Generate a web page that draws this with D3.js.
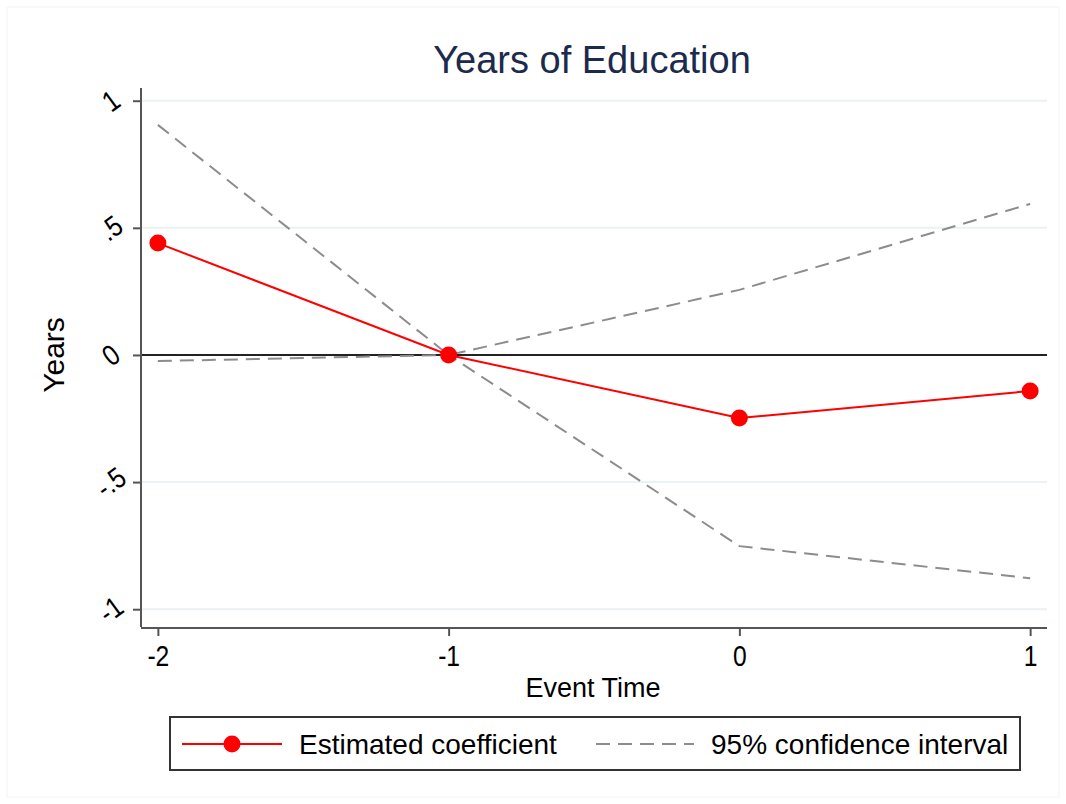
<!DOCTYPE html>
<html><head><meta charset="utf-8">
<script src="https://cdn.jsdelivr.net/npm/d3@7/dist/d3.min.js"></script>
<style>body{margin:0;background:#fff;} svg{display:block;}</style>
</head><body>
<svg id="chart" width="1066" height="804"></svg>
<script>
const eventTimes = [-2, -1, 0, 1];
const coefficient = [0.44, 0, -0.248, -0.142];
const ciUpper = [0.905, 0, 0.256, 0.594];
const ciLower = [-0.024, 0, -0.752, -0.878];
const yTicks = [1, 0.5, 0, -0.5, -1];
const yTickLabels = ["1", ".5", "0", "-.5", "-1"];
const xTicks = [-2, -1, 0, 1];
const xTickLabels = ["-2", "-1", "0", "1"];
const title = "Years of Education";
const xTitle = "Event Time";
const yTitle = "Years";
const legendLabels = ["Estimated coefficient", "95% confidence interval"];

const font = "'Liberation Sans', Arial, sans-serif";
const svg = d3.select("#chart");
const L = 141, R = 1047, T = 88, B = 627;

const x = d3.scaleLinear().domain([-2.058, 1.058]).range([L, R]);
const y = d3.scaleLinear().domain([-1.07, 1.05]).range([B, T]);

// faint outer frame
svg.append("rect").attr("x", 7).attr("y", 7).attr("width", 1052).attr("height", 790)
  .attr("fill", "none").attr("stroke", "#f4f4f4").attr("stroke-width", 1);

// gridlines
svg.append("g").selectAll("line").data(yTicks.filter(d => d !== 0)).join("line")
  .attr("x1", L).attr("x2", R).attr("y1", d => y(d)).attr("y2", d => y(d))
  .attr("stroke", "#eaf2f3").attr("stroke-width", 2);

// zero line
svg.append("line").attr("x1", L).attr("x2", R).attr("y1", y(0)).attr("y2", y(0))
  .attr("stroke", "#222").attr("stroke-width", 2);

// axes
const yAxis = svg.append("g").attr("transform", `translate(${L},0)`)
  .call(d3.axisLeft(y).tickValues(yTicks).tickSize(8).tickFormat((d, i) => yTickLabels[i]));
yAxis.select(".domain").attr("d", `M0,${T}V${B}`);
const xAxis = svg.append("g").attr("transform", `translate(0,${B + 1})`)
  .call(d3.axisBottom(x).tickValues(xTicks).tickSize(8).tickFormat((d, i) => xTickLabels[i]));
xAxis.select(".domain").attr("d", `M${L},0H${R}`);
[yAxis, xAxis].forEach(a => {
  a.attr("font-size", 29).attr("font-family", font);
  a.selectAll(".domain").attr("stroke", "#555").attr("stroke-width", 2);
  a.selectAll(".tick line").attr("stroke", "#555").attr("stroke-width", 2);
  a.selectAll("text").attr("fill", "#000").style("font-family", font).style("font-size", "29px");
});
yAxis.selectAll(".tick text").attr("x", 0).attr("dy", 0).attr("text-anchor", "middle")
  .attr("transform", "translate(-30,0) rotate(-36) scale(0.85,1)").attr("dominant-baseline", "central");
xAxis.selectAll(".tick text").attr("y", 17).attr("dy", "0.71em").attr("transform", "scale(0.85,1)");

// lines
const line = d3.line().x((d, i) => x(eventTimes[i])).y(d => y(d));
[ciUpper, ciLower].forEach(s => {
  svg.append("path").attr("d", line(s)).attr("fill", "none")
    .attr("stroke", "#8c8c8c").attr("stroke-width", 2).attr("stroke-dasharray", "14,8");
});
svg.append("path").attr("d", line(coefficient)).attr("fill", "none")
  .attr("stroke", "#ff0000").attr("stroke-width", 2);
svg.append("g").selectAll("circle").data(coefficient).join("circle")
  .attr("cx", (d, i) => x(eventTimes[i])).attr("cy", d => y(d)).attr("r", 8.5).attr("fill", "#ff0000");

// titles
svg.append("text").attr("x", 592).attr("y", 73).attr("text-anchor", "middle")
  .style("font-family", font).style("font-size", "38px").attr("fill", "#1c2a4e").text(title);
svg.append("text").attr("x", 593).attr("y", 697).attr("text-anchor", "middle")
  .style("font-family", font).style("font-size", "27px").attr("fill", "#000").text(xTitle);
svg.append("text").attr("transform", `translate(64,${y(0)}) rotate(-90)`).attr("text-anchor", "middle")
  .style("font-family", font).style("font-size", "30px").attr("fill", "#000").text(yTitle);

// legend
const lg = svg.append("g");
lg.append("rect").attr("x", 170).attr("y", 717).attr("width", 850).attr("height", 53)
  .attr("fill", "#fff").attr("stroke", "#333").attr("stroke-width", 2);
lg.append("line").attr("x1", 182).attr("x2", 282).attr("y1", 744).attr("y2", 744)
  .attr("stroke", "#ff0000").attr("stroke-width", 2);
lg.append("circle").attr("cx", 232).attr("cy", 744).attr("r", 8.5).attr("fill", "#ff0000");
lg.append("text").attr("x", 299).attr("y", 754).style("font-family", font).style("font-size", "28px")
  .attr("fill", "#000").text(legendLabels[0]);
lg.append("line").attr("x1", 596).attr("x2", 694).attr("y1", 744).attr("y2", 744)
  .attr("stroke", "#8c8c8c").attr("stroke-width", 2).attr("stroke-dasharray", "14,8");
lg.append("text").attr("x", 711).attr("y", 754).style("font-family", font).style("font-size", "28px")
  .attr("fill", "#000").text(legendLabels[1]);
</script>
</body></html>
